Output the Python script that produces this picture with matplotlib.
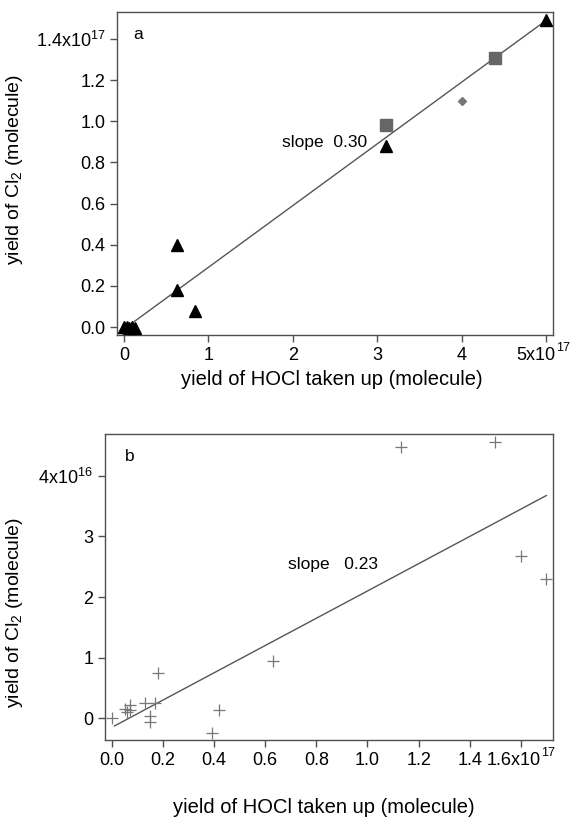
import matplotlib.pyplot as plt

plt.rcParams['font.family'] = ['Liberation Sans', 'DejaVu Sans']
plt.rcParams['mathtext.fontset'] = 'custom'
plt.rcParams['mathtext.rm'] = 'Liberation Sans'
plt.rcParams['mathtext.it'] = 'Liberation Sans:italic'

# panel a  (x in 1e17, y in 1e17 molecules)
tri_x = [0.0, 0.03, 0.06, 0.1, 0.13, 0.63, 0.63, 0.84, 3.1, 5.0]
tri_y = [0.0, 0.0, -0.003, 0.0, -0.006, 0.40, 0.18, 0.08, 0.88, 1.49]
sq_x = [3.1, 4.4]
sq_y = [0.98, 1.31]
dia_x = [4.0]
dia_y = [1.10]
fit_a_x = [0.12, 5.0]
slope_a, icpt_a = 0.30, -0.01

# panel b  (x in 1e17, y in 1e16 molecules)
cr_x = [0.0, 0.05, 0.06, 0.07, 0.07, 0.13, 0.15, 0.15, 0.17, 0.18,
        0.39, 0.42, 0.63, 1.13, 1.50, 1.60, 1.70]
cr_y = [0.0, 0.15, 0.10, 0.22, 0.13, 0.25, 0.03, -0.06, 0.25, 0.74,
        -0.24, 0.13, 0.94, 4.47, 4.56, 2.68, 2.29]
fit_b_x = [0.01, 1.70]
slope_b, icpt_b = 2.25, -0.15

xt_a = [0, 1, 2, 3, 4, 5]
xtl_a = ['0', '1', '2', '3', '4', '']          # last one drawn with exponent below
yt_a = [0.0, 0.2, 0.4, 0.6, 0.8, 1.0, 1.2, 1.4]
ytl_a = ['0.0', '0.2', '0.4', '0.6', '0.8', '1.0', '1.2', r'1.4x10$^{17}$']
xt_b = [0.0, 0.2, 0.4, 0.6, 0.8, 1.0, 1.2, 1.4, 1.6]
xtl_b = ['0.0', '0.2', '0.4', '0.6', '0.8', '1.0', '1.2', '1.4', '']
yt_b = [0, 1, 2, 3, 4]
ytl_b = ['0', '1', '2', '3', r'4x10$^{16}$']

edge = '#505050'
tsize = 13
ssize = 9


def exp_xlabel(ax, x, mant, expo, shift=0.0):
    # mantissa + raised exponent, mantissa baseline level with the other tick labels
    sup_w = 0.556 * len(expo) * ssize
    main_w = (0.556 * (len(mant) - mant.count('x') - mant.count('.'))
              + 0.5 * mant.count('x') + 0.278 * mant.count('.')) * tsize
    left = -(main_w + sup_w) / 2 + shift
    ax.annotate(mant, xy=(x, 0), xycoords=('data', 'axes fraction'),
                xytext=(left, -8.5), textcoords='offset points',
                ha='left', va='top', fontsize=tsize)
    ax.annotate(expo, xy=(x, 0), xycoords=('data', 'axes fraction'),
                xytext=(left + main_w, -5.2), textcoords='offset points',
                ha='left', va='top', fontsize=ssize)


fig = plt.figure(figsize=(5.72, 8.25), dpi=100)
ax1 = fig.add_axes([0.2045, 0.5939, 0.7622, 0.3915])
ax2 = fig.add_axes([0.1836, 0.1030, 0.7832, 0.3709])

# --- a ---
ax1.plot(fit_a_x, [slope_a * v + icpt_a for v in fit_a_x], color='#555555', lw=1.0, zorder=2)
ax1.plot(tri_x, tri_y, '^', color='black', ms=9, zorder=3)
ax1.plot(sq_x, sq_y, 's', color='#666666', ms=8, zorder=3)
ax1.plot(dia_x, dia_y, 'D', color='#777777', ms=4.5, zorder=3)
ax1.set_xlim(-0.083, 5.083)
ax1.set_ylim(-0.039, 1.531)
ax1.set_xticks(xt_a)
ax1.set_xticklabels(xtl_a)
ax1.set_yticks(yt_a)
ax1.set_yticklabels(ytl_a)
exp_xlabel(ax1, 5, '5x10', '17', shift=-2.0)
ax1.text(0.11, 1.42, 'a', fontsize=12.5, va='center')
ax1.text(1.87, 0.895, 'slope  0.30', fontsize=12.5, va='center')
ax1.set_ylabel(r'yield of Cl$_2$ (molecule)', fontsize=14)
ax1.yaxis.set_label_coords(-0.211, 0.514)
ax1.set_xlabel('yield of HOCl taken up (molecule)', fontsize=14.5)
ax1.xaxis.set_label_coords(0.493, -0.139)
ax1.xaxis.label.set_va('center')

# --- b ---
ax2.plot(fit_b_x, [slope_b * v + icpt_b for v in fit_b_x], color='#555555', lw=1.0, zorder=2)
ax2.plot(cr_x, cr_y, '+', color='#777777', ms=9, mew=0.9, zorder=3)
ax2.set_xlim(-0.027, 1.726)
ax2.set_ylim(-0.36, 4.69)
ax2.set_xticks(xt_b)
ax2.set_xticklabels(xtl_b)
ax2.set_yticks(yt_b)
ax2.set_yticklabels(ytl_b)
exp_xlabel(ax2, 1.6, '1.6x10', '17')
ax2.text(0.05, 4.32, 'b', fontsize=12.5, va='center')
ax2.text(0.69, 2.53, 'slope   0.23', fontsize=12.5, va='center')
ax2.set_ylabel(r'yield of Cl$_2$ (molecule)', fontsize=14)
ax2.yaxis.set_label_coords(-0.179, 0.418)
ax2.set_xlabel('yield of HOCl taken up (molecule)', fontsize=14.5)
ax2.xaxis.set_label_coords(0.489, -0.219)
ax2.xaxis.label.set_va('center')

for ax in (ax1, ax2):
    for s in ax.spines.values():
        s.set_color(edge)
        s.set_linewidth(1.0)
    ax.tick_params(direction='out', length=5, width=1.0, color=edge,
                   labelsize=tsize, top=False, right=False)

plt.savefig('out.png', dpi=100)
